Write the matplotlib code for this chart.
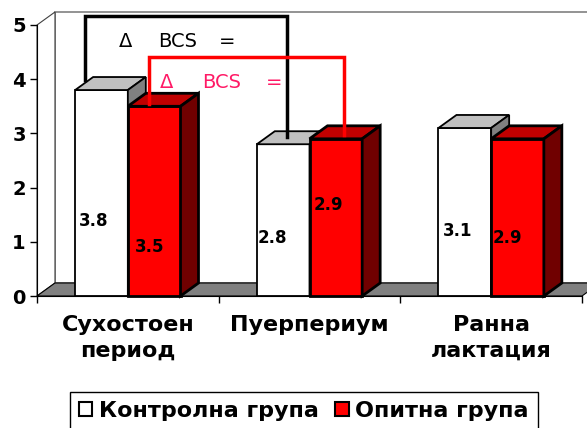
import matplotlib.pyplot as plt
from matplotlib.patches import Polygon, Patch

categories = ['Сухостоен\nпериод', 'Пуерпериум', 'Ранна\nлактация']
control = [3.8, 2.8, 3.1]
trial = [3.5, 2.9, 2.9]
series_names = ['Контролна група', 'Опитна група']
yticks = [0, 1, 2, 3, 4, 5]

# where Excel put the value labels (data coords)
ctrl_lbl = [(-0.186, 1.38), (0.793, 1.07), (1.817, 1.20)]
trial_lbl = [(0.122, 0.90), (1.102, 1.68), (2.087, 1.07)]

dx, dy = 0.099, 0.24   # 3d depth offset
w = 0.29

fig = plt.figure(figsize=(5.87, 4.28), dpi=100)
ax = fig.add_axes([37/587, (428-296)/428, (582-37)/587, (296-25)/428])
ax.set_xlim(-0.5, 2.5)
ax.set_ylim(0, 5)


def poly(pts, fc, ec, lw, z):
    ax.add_patch(Polygon(pts, closed=True, facecolor=fc, edgecolor=ec,
                         linewidth=lw, zorder=z, clip_on=False,
                         joinstyle='miter'))


# walls and floor
poly([(-0.5+dx, dy), (2.5+dx, dy), (2.5+dx, 5+dy), (-0.5+dx, 5+dy)],
     'white', '#808080', 1.2, 0)
poly([(-0.5, 0), (-0.5+dx, dy), (-0.5+dx, 5+dy), (-0.5, 5)],
     'white', '#404040', 0.8, 0.5)
poly([(-0.5, 0), (2.5, 0), (2.5+dx, dy), (-0.5+dx, dy)],
     '#808080', 'black', 0.8, 0.5)


def box(x0, x1, v, front, top, side, lw, z):
    poly([(x0, 0), (x1, 0), (x1, v), (x0, v)], front, 'black', lw, z)
    poly([(x0, v), (x1, v), (x1+dx, v+dy), (x0+dx, v+dy)], top, 'black', lw, z)
    poly([(x1, 0), (x1+dx, dy), (x1+dx, v+dy), (x1, v)], side, 'black', lw, z)


for i in range(len(categories)):
    box(i - w, i, control[i], 'white', '#c0c0c0', '#808080', 1.3, 2 + i*2)
    box(i, i + w, trial[i], '#ff0000', '#c00000', '#700000', 2.0, 3 + i*2)

for i in range(len(categories)):
    ax.text(*ctrl_lbl[i], f'{control[i]:.1f}', ha='center', va='center',
            fontsize=12, fontweight='bold', zorder=20)
    ax.text(*trial_lbl[i], f'{trial[i]:.1f}', ha='center', va='center',
            fontsize=12, fontweight='bold', zorder=20)

# BCS brackets
ax.plot([-0.236, -0.236, 0.876, 0.876], [control[0] + 0.19, 5.17, 5.17, control[1] + 0.13],
        color='black', lw=2.5, zorder=30, clip_on=False, solid_joinstyle='miter')
ax.plot([0.116, 0.116, 1.19, 1.19], [trial[0] + 0.04, 4.41, 4.41, trial[1] + 0.07],
        color='#ff0000', lw=2.5, zorder=30, clip_on=False, solid_joinstyle='miter')
for x, s in zip([-0.01, 0.276, 0.546], ['Δ', 'BCS', '=']):
    ax.text(x, 4.69, s, ha='center', va='center', fontsize=14, color='black', zorder=31)
for x, s in zip([0.215, 0.518, 0.804], ['Δ', 'BCS', '=']):
    ax.text(x, 3.93, s, ha='center', va='center', fontsize=14, color='#ff1a66', zorder=31)

# axes
for s in ['top', 'right']:
    ax.spines[s].set_visible(False)
ax.spines['left'].set_zorder(40)
ax.spines['bottom'].set_zorder(40)
ax.set_yticks(yticks)
ax.set_yticklabels([str(t) for t in yticks], fontsize=14, fontweight='bold')
ax.tick_params(axis='y', length=5, width=1, pad=3)
ax.set_xticks(range(len(categories)))
ax.set_xticklabels(categories, fontsize=16, fontweight='bold', linespacing=1.35)
ax.set_xticks([-0.5, 0.5, 1.5, 2.5], minor=True)
ax.tick_params(axis='x', which='major', length=0, pad=14)
ax.tick_params(axis='x', which='minor', length=5, width=1)

handles = [Patch(facecolor='white', edgecolor='black', linewidth=1.5),
           Patch(facecolor='#ff0000', edgecolor='black', linewidth=1.5)]
leg = fig.legend(handles, series_names, loc='upper left', ncol=2,
                 bbox_to_anchor=(70/587, 1 - 392/428),
                 prop={'size': 16, 'weight': 'bold'},
                 handlelength=0.6, handleheight=0.6, handletextpad=0.3,
                 columnspacing=0.75, borderpad=0.4, borderaxespad=0,
                 fancybox=False, framealpha=1, edgecolor='black')
leg.get_frame().set_linewidth(1)

fig.savefig('out.png', dpi=100)
